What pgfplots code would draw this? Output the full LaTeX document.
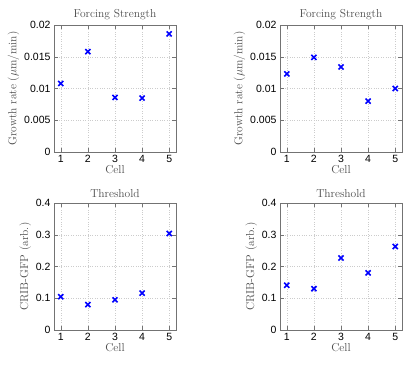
\documentclass[border=0pt]{standalone}
\usepackage{pgfplots}
\pgfplotsset{compat=1.18}
\usepackage{fontspec}
\newfontfamily\ticksans{Liberation Sans}
\newcommand\lbl{\fontsize{11.5}{13}\selectfont\addfontfeatures{LetterSpace=7}}

\pgfplotstableread{
cell grA grB thA thB
1 0.0108 0.0123 0.105 0.141
2 0.0158 0.0149 0.080 0.130
3 0.0086 0.0134 0.095 0.227
4 0.0085 0.0080 0.116 0.180
5 0.0186 0.0100 0.304 0.263
}\cells

\pgfplotsset{
  cellplot/.style={
    scale only axis, width=122pt, height=127pt,
    anchor=south west,
    xmin=0.75, xmax=5.25,
    xtick={1,2,3,4,5},
    grid=major,
    grid style={dotted, gray!40},
    axis line style={black!55},
    tick style={black!55},
    tick align=inside,
    scaled y ticks=false,
    /pgf/number format/assume math mode=true,
    /pgf/number format/fixed,
    /pgf/number format/precision=3,
    tick label style={font=\ticksans\fontsize{10.5}{12}\selectfont},
    title style={font=\lbl, yshift=-4pt, text=black!70},
    label style={font=\lbl, text=black!70},
    xlabel={Cell},
    xlabel style={yshift=4pt},
    ylabel style={yshift=-2pt},
  },
  growth/.style={
    ymin=0, ymax=0.02, ytick={0,0.005,0.01,0.015,0.02},
    title={Forcing Strength},
    ylabel={Growth rate ($\mu$m/min)},
  },
  thresh/.style={
    ymin=0, ymax=0.4, ytick={0,0.1,0.2,0.3,0.4},
    title={Threshold},
    ylabel={CRIB-GFP (arb.)},
  },
  cross/.style={only marks, mark=x, color=blue, mark size=3.6pt, line width=1.6pt},
}

\begin{document}
\begin{tikzpicture}
\useasboundingbox (0pt,0pt) rectangle (419pt,365pt);

\begin{axis}[cellplot, growth, at={(54pt,213pt)}]
\addplot[cross] table[x=cell, y=grA] {\cells};
\end{axis}

\begin{axis}[cellplot, growth, at={(280pt,213pt)}]
\addplot[cross] table[x=cell, y=grB] {\cells};
\end{axis}

\begin{axis}[cellplot, thresh, at={(54pt,35pt)}]
\addplot[cross] table[x=cell, y=thA] {\cells};
\end{axis}

\begin{axis}[cellplot, thresh, at={(280pt,35pt)}]
\addplot[cross] table[x=cell, y=thB] {\cells};
\end{axis}

\end{tikzpicture}
\end{document}
